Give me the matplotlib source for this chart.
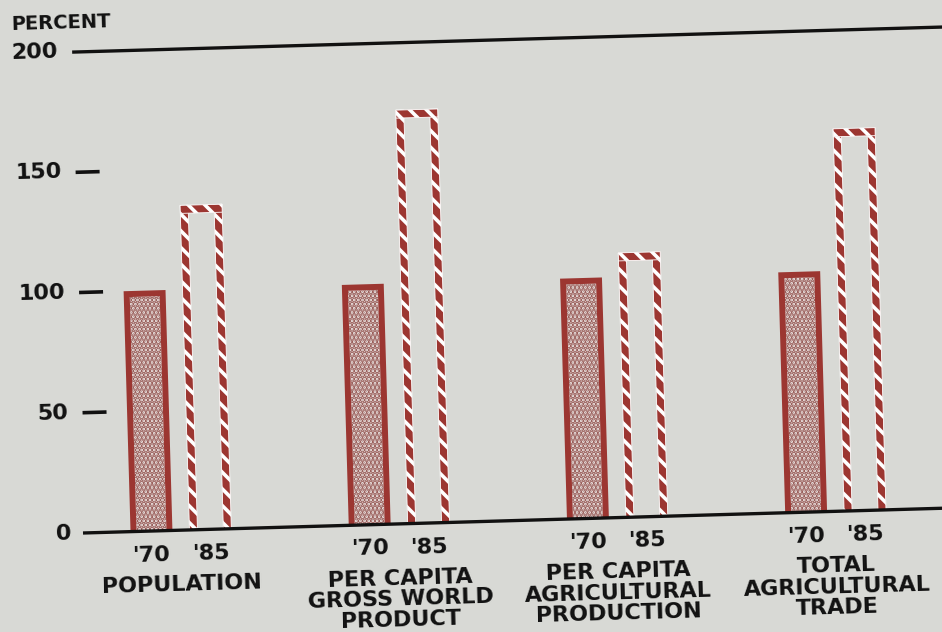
import numpy as np
import matplotlib.pyplot as plt
from matplotlib.transforms import Affine2D

# Index values, 1970 = 100
categories = ['POPULATION',
              'PER CAPITA\nGROSS WORLD\nPRODUCT',
              'PER CAPITA\nAGRICULTURAL\nPRODUCTION',
              'TOTAL\nAGRICULTURAL\nTRADE']
year_labels = ["'70", "'85"]
values_1970 = [100, 100, 100, 100]
values_1985 = [135, 172, 110, 159]
ytick_values = [0, 50, 100, 150, 200]

RED = '#9c3631'
BG = '#d8d9d5'
INK = '#111111'

plt.rcParams['font.family'] = ['DejaVu Sans']
plt.rcParams['font.weight'] = 'bold'
plt.rcParams['hatch.linewidth'] = 2.6

fig = plt.figure(figsize=(9.42, 6.32), dpi=100, facecolor=BG)
ax = fig.add_axes([0, 0, 1, 1])
ax.set_facecolor(BG)
ax.set_xlim(-0.829, 3.486)
ax.set_ylim(-99 / 2.405, (632 - 99) / 2.405)
ax.axis('off')

x = np.arange(len(categories))
off = 0.135          # half distance between the two bars of a group
w = 0.192            # bar width
px = 1 / 218.3       # one pixel in x data units
py = 1 / 2.405       # one pixel in y data units
x_edge = -0.829      # data x of the left figure edge

# 1970 bars: solid red frame with stippled fill
b = 6
ax.bar(x - off, values_1970, width=w, color=RED, linewidth=0)
ax.bar(x - off, np.array(values_1970) - b * py, bottom=0,
       width=w - 2 * b * px, facecolor='#e9e2e0', edgecolor='#9a5e5a',
       hatch='....', linewidth=0)

# 1985 bars: open frame with white diagonal stripes
t = 8
v85 = np.array(values_1985)
for side in (-1, 1):
    ax.bar(x + off + side * (w / 2 - t * px / 2), v85, width=t * px,
           facecolor=RED, edgecolor='white', hatch='\\\\', linewidth=0.6)
ax.bar(x + off, t * py, bottom=v85 - t * py, width=w,
       facecolor=RED, edgecolor='white', hatch='\\\\', linewidth=0.6)

# axis lines and ticks
x0 = x_edge + 86 * px
x1 = x_edge + 110 * px
xr = 3.6
ax.plot([x_edge + 83 * px, xr], [0, 0], color=INK, lw=2.4, solid_capstyle='butt')
ax.plot([x0, xr], [200, 200], color=INK, lw=2.4, solid_capstyle='butt')
for v in ytick_values[1:-1]:
    ax.plot([x0, x1], [v, v], color=INK, lw=2.6, solid_capstyle='butt')

xl = x_edge + 72 * px
for v in ytick_values:
    ax.text(xl, v, str(v), ha='right', va='center', fontsize=16, color=INK)
ax.text(x_edge + 26 * px, 213, 'PERCENT', ha='left', va='center',
        fontsize=14, color=INK)

for i, cat in enumerate(categories):
    ax.text(x[i] - off, -10, year_labels[0], ha='center', va='center',
            fontsize=16, color=INK)
    ax.text(x[i] + off, -10, year_labels[1], ha='center', va='center',
            fontsize=16, color=INK)
    ax.text(x[i], -17.5, cat, ha='center', va='top', fontsize=16,
            color=INK, linespacing=1.05)

# slight counter-clockwise tilt of the whole drawing
angle = 1.65
cx, cy = ax.transData.transform((x_edge + 83 * px, 0))
rot = Affine2D().rotate_deg_around(cx, cy, angle)
for artist in list(ax.patches) + list(ax.lines) + list(ax.texts):
    artist.set_transform(ax.transData + rot)
    artist.set_clip_on(False)
for txt in ax.texts:
    txt.set_rotation(angle)

fig.savefig('out.png', dpi=100, facecolor=BG)
